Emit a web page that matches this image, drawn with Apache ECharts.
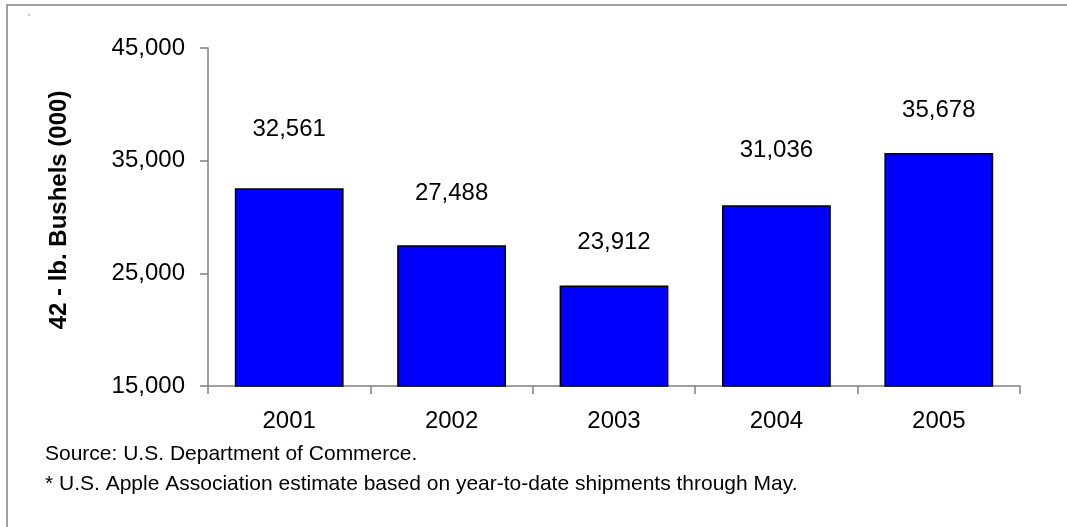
<!DOCTYPE html>
<html>
<head>
<meta charset="utf-8">
<script src="https://cdn.jsdelivr.net/npm/echarts@6/dist/echarts.min.js"></script>
<style>
  html, body { margin: 0; padding: 0; background: #ffffff; }
  #chart { width: 1067px; height: 527px; }
</style>
</head>
<body>
<div id="chart"></div>
<script>
// Apple shipments by year, 42-lb bushels (thousands)
const years = ['2001', '2002', '2003', '2004', '2005'];
const bushels = [32561, 27488, 23912, 31036, 35678];
const yTicks = { min: 15000, max: 45000, step: 10000 };
const axisTitle = '42 - lb. Bushels (000)';
const notes = [
  'Source: U.S. Department of Commerce.',
  '* U.S. Apple Association estimate based on year-to-date shipments through May.'
];

// gap between each bar top and its value label (px)
const labelGap = [47, 40, 31, 43, 31];

const fmt = v => v.toLocaleString('en-US');
const FONT = '"Liberation Sans", Arial, sans-serif';

const chart = echarts.init(document.getElementById('chart'), null, { renderer: 'canvas' });

chart.setOption({
  animation: false,
  backgroundColor: '#ffffff',
  grid: { left: 208, right: 47, top: 48, bottom: 141, containLabel: false },
  xAxis: {
    type: 'category',
    data: years,
    boundaryGap: true,
    axisLine: { lineStyle: { color: '#808080', width: 1.5 } },
    axisTick: { show: true, length: 8, inside: false, lineStyle: { color: '#808080', width: 1.5 } },
    axisLabel: { color: '#000', fontFamily: FONT, fontSize: 24, margin: 23 }
  },
  yAxis: {
    type: 'value',
    min: yTicks.min,
    max: yTicks.max,
    interval: yTicks.step,
    splitLine: { show: false },
    axisLine: { show: true, lineStyle: { color: '#808080', width: 1.5 } },
    axisTick: { show: true, length: 8, inside: false, lineStyle: { color: '#808080', width: 1.5 } },
    axisLabel: { color: '#000', fontFamily: FONT, fontSize: 24, margin: 23, formatter: fmt }
  },
  series: [{
    type: 'bar',
    barCategoryGap: '33%',
    data: bushels.map((v, i) => ({
      value: v,
      label: { distance: labelGap[i] }
    })),
    itemStyle: { color: '#0000ff', borderColor: '#000000', borderWidth: 1.5 },
    label: {
      show: true,
      position: 'top',
      color: '#000',
      fontFamily: FONT,
      fontSize: 24,
      formatter: p => fmt(p.value)
    }
  }],
  graphic: [
    {
      type: 'rect',
      shape: { x: 7, y: 5, width: 1200, height: 700 },
      style: { fill: null, stroke: '#808080', lineWidth: 1.5 },
      silent: true
    },
    {
      type: 'circle',
      shape: { cx: 29, cy: 15, r: 0.7 },
      style: { fill: '#666' },
      silent: true
    },
    {
      // vertical axis title
      type: 'text',
      x: 59,
      y: 210,
      rotation: Math.PI / 2,
      style: {
        text: axisTitle,
        fill: '#000',
        font: 'bold 24px ' + FONT,
        align: 'center',
        verticalAlign: 'middle'
      }
    },
    {
      type: 'text',
      left: 45,
      top: 444,
      style: { text: notes[0], fill: '#000', font: '21px ' + FONT }
    },
    {
      type: 'text',
      left: 45,
      top: 474,
      style: { text: notes[1], fill: '#000', font: '21px ' + FONT }
    }
  ]
});
</script>
</body>
</html>
